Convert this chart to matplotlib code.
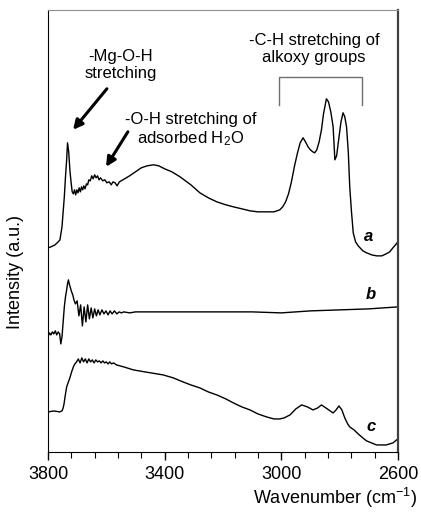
import matplotlib.pyplot as plt
from matplotlib.ticker import FixedLocator

plt.rcParams['font.family'] = ['Liberation Sans', 'DejaVu Sans']
plt.rcParams['mathtext.fontset'] = 'custom'
plt.rcParams['mathtext.rm'] = 'Liberation Sans'
plt.rcParams['mathtext.it'] = 'Liberation Sans:italic'

# espectro a
wn_a = [3800, 3790, 3776, 3765, 3759, 3752, 3748, 3744, 3740, 3736, 3733, 3729, 3725,
        3721, 3717, 3713, 3709, 3705, 3701, 3697, 3693, 3689, 3685, 3681, 3677, 3673,
        3668, 3664, 3660, 3655, 3650, 3645, 3640, 3635, 3630, 3625, 3620, 3612, 3605,
        3598, 3590, 3583, 3577, 3570, 3563, 3555, 3543, 3520, 3500, 3480, 3460, 3438,
        3420, 3400, 3375, 3347, 3310, 3279, 3250, 3221, 3190, 3164, 3135, 3107, 3080,
        3050, 3025, 3005, 2995, 2985, 2975, 2965, 2955, 2945, 2935, 2925, 2915, 2908,
        2900, 2892, 2885, 2878, 2870, 2862, 2855, 2845, 2838, 2830, 2822, 2816, 2810,
        2803, 2795, 2788, 2782, 2776, 2770, 2765, 2759, 2753, 2745, 2736, 2720, 2707,
        2690, 2673, 2655, 2640, 2628, 2617, 2608, 2600]
int_a = [204, 205, 207, 210, 212, 225, 240, 255, 275, 292, 309, 300, 282,
         270, 260, 258, 262, 257, 262, 259, 264, 260, 265, 262, 266, 263,
         268, 267, 272, 271, 276, 273, 277, 274, 276, 272, 274, 271, 272,
         269, 270, 267, 270, 269, 266, 270, 272, 276, 280, 284, 286, 287,
         286, 283, 280, 275, 267, 259, 254, 250, 247, 245, 243, 241, 240,
         240, 240, 242, 245, 250, 258, 270, 285, 298, 309, 314, 309, 305,
         302, 300, 299, 302, 310, 322, 338, 353, 350, 340, 325, 292, 296,
         312, 330, 339, 335, 325, 300, 265, 240, 219, 210, 206, 201, 199,
         197, 196, 196, 198, 200, 204, 207, 210]

# espectro b
wn_b = [3800, 3795, 3790, 3785, 3780, 3775, 3770, 3765, 3760, 3756, 3752, 3748, 3744,
        3740, 3736, 3733, 3730, 3727, 3723, 3719, 3715, 3711, 3706, 3700, 3694, 3688,
        3682, 3676, 3670, 3664, 3658, 3652, 3646, 3640, 3634, 3628, 3622, 3615, 3608,
        3601, 3594, 3587, 3580, 3572, 3564, 3556, 3548, 3540, 3520, 3500, 3450, 3400,
        3300, 3200, 3100, 3000, 2900, 2800, 2700, 2600]
int_b = [115, 119, 117, 120, 118, 121, 117, 120, 118, 108, 115, 130, 145,
         155, 162, 168, 172, 168, 164, 160, 157, 152, 148, 151, 136, 147,
         126, 145, 130, 147, 133, 144, 134, 143, 136, 142, 137, 142, 138,
         141, 137, 141, 138, 141, 138, 140, 139, 140, 139, 140, 140, 140,
         140, 140, 140, 139, 141, 142, 143, 145]

# espectro c
wn_c = [3800, 3780, 3760, 3752, 3748, 3745, 3740, 3736, 3730, 3725, 3719, 3713, 3708,
        3702, 3696, 3690, 3684, 3678, 3672, 3666, 3660, 3654, 3648, 3642, 3636, 3630,
        3624, 3618, 3612, 3606, 3600, 3594, 3588, 3582, 3575, 3565, 3540, 3507, 3467,
        3405, 3370, 3337, 3310, 3279, 3250, 3221, 3190, 3164, 3135, 3107, 3080, 3050,
        3025, 3005, 2990, 2970, 2950, 2930, 2910, 2891, 2875, 2862, 2842, 2822, 2812,
        2802, 2792, 2782, 2772, 2765, 2750, 2736, 2720, 2707, 2690, 2673, 2655, 2640,
        2617, 2600]
int_c = [40, 41, 40, 41, 44, 48, 58, 65, 70, 74, 80, 85, 88,
         90, 93, 89, 94, 90, 93, 89, 93, 90, 92, 89, 92, 90,
         91, 89, 91, 89, 90, 88, 90, 88, 89, 87, 85, 82, 80,
         77, 74, 70, 67, 64, 60, 57, 53, 49, 45, 42, 38, 35,
         33, 33, 34, 37, 43, 47, 45, 42, 44, 47, 43, 39, 42,
         46, 42, 34, 28, 25, 22, 18, 14, 11, 9, 7, 7, 7,
         9, 13]

# ejes
major_ticks = [3800, 3400, 3000, 2600]
minor_ticks = list(range(3800, 2599, -80))

fig = plt.figure(figsize=(4.21, 5.13), dpi=100)
ax = fig.add_axes([0.114, 0.119, 0.831, 0.862])

for wn, it in ((wn_a, int_a), (wn_b, int_b), (wn_c, int_c)):
    ax.plot(wn, it, color='black', lw=1.0)

ax.set_xlim(3800, 2600)
ax.set_ylim(0, 442)
ax.xaxis.set_major_locator(FixedLocator(major_ticks))
ax.xaxis.set_minor_locator(FixedLocator(minor_ticks))
ax.tick_params(axis='x', which='major', direction='out', length=6, width=1,
               labelsize=13, pad=4)
ax.tick_params(axis='x', which='minor', direction='out', length=4, width=0.8)
ax.set_yticks([])
ax.spines['top'].set_color('#909090')
ax.spines['top'].set_linewidth(0.8)
ax.spines['right'].set_color('#404040')
ax.spines['right'].set_linewidth(1.6)

ax.text(1.055, -0.105, 'Wavenumber (cm$^{-1}$)', transform=ax.transAxes,
        ha='right', va='center', fontsize=13)
fig.text(0.036, 0.47, 'Intensity (a.u.)', rotation=90, ha='center', va='center',
         fontsize=13)

# etiquetas de curvas
for x, y, t in ((2700, 215, 'a'), (2693, 157, 'b'), (2693, 25, 'c')):
    ax.text(x, y, t, fontsize=12, fontweight='bold', style='italic',
            ha='center', va='center')

# anotaciones
flecha = dict(arrowstyle='-|>', color='black', lw=2.2, mutation_scale=14,
              shrinkA=0, shrinkB=0)
ax.text(3550, 387, '-Mg-O-H\nstretching', ha='center', va='center', fontsize=12,
        linespacing=1.2)
ax.annotate('', xy=(3714, 322), xytext=(3598, 363), arrowprops=flecha)
ax.text(3310, 322, '-O-H stretching of\nadsorbed H$_2$O', ha='center', va='center',
        fontsize=12, linespacing=1.2)
ax.annotate('', xy=(3601, 285), xytext=(3526, 320), arrowprops=flecha)
ax.text(2888, 403, '-C-H stretching of\nalkoxy groups', ha='center', va='center',
        fontsize=12, linespacing=1.2)
ax.plot([3008, 3008, 2723, 2723], [347, 375, 375, 347], color='#707070', lw=1.0)

fig.savefig('out.png', dpi=100)
